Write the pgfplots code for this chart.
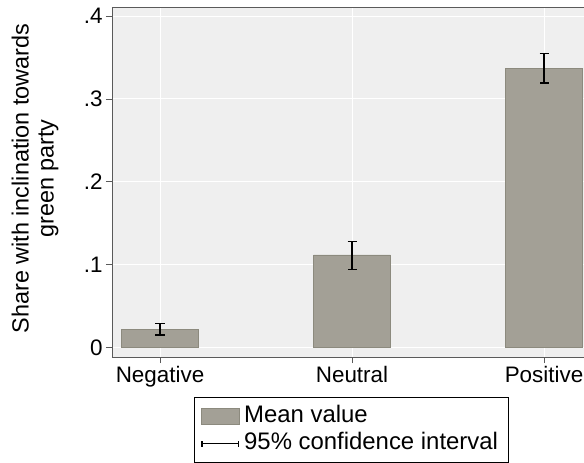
\documentclass[border=0pt]{standalone}
\usepackage{pgfplots}
\pgfplotsset{compat=1.18}
\usepackage{fontspec}
\setmainfont{Liberation Sans}
\definecolor{barfill}{RGB}{163,160,150}
\definecolor{baredge}{RGB}{140,138,126}
\definecolor{plotbg}{RGB}{239,239,239}
\definecolor{axgray}{RGB}{90,90,90}
\begin{document}
\begin{tikzpicture}
\begin{axis}[
  at={(0,0)}, anchor=south west,
  scale only axis,
  width=472bp, height=350bp,
  xmin=-0.25, xmax=2.2083,
  ymin=-0.0117, ymax=0.411,
  axis background/.style={fill=plotbg},
  axis x line*=box, axis y line*=left,
  axis line style={axgray, line width=0.8bp},
  xtick={0,1,2}, xticklabels={Negative,Neutral,Positive},
  ytick={0,0.1,0.2,0.3,0.4}, yticklabels={0,.1,.2,.3,.4},
  tick align=outside, tick pos=left,
  major tick length=6bp,
  tick style={axgray, line width=0.8bp},
  xmajorgrids, ymajorgrids,
  major grid style={white, line width=1bp},
  ticklabel style={font=\fontsize{22.5}{26}\selectfont},
  /pgf/number format/assume math mode=true,
  ylabel={Share with inclination towards\\green party},
  every axis y label/.style={at={(rel axis cs:-0.106,0.51)}, rotate=90, anchor=south,
    align=center, font=\fontsize{23.5}{25}\selectfont},
  legend style={at={(0.1737,-0.114)}, anchor=north west, draw=black, line width=0.8bp,
    font=\fontsize{24}{26}\selectfont, inner xsep=6bp, inner ysep=5bp,
    row sep=0bp, cells={anchor=west},
    nodes={text height=17.5bp, text depth=5bp, inner ysep=2.5bp, inner xsep=4bp}},
  legend cell align=left,
  clip=false,
]
\addplot[ybar, bar width=0.4, fill=barfill, draw=baredge, line width=0.6bp,
  legend image code/.code={\draw[fill=barfill, draw=baredge, line width=0.6bp] (0bp,-8bp) rectangle (38bp,8bp);}]
  coordinates {(0,0.0217) (1,0.1115) (2,0.337)};
\addlegendentry{Mean value}
\addplot[draw=none, mark=none,
  legend image code/.code={\draw[black, line width=1.8bp] (0bp,0bp) -- (38bp,0bp); \draw[black, line width=1.4bp] (0.7bp,-3bp) -- (0.7bp,3bp); \draw[black, line width=1.4bp] (37.3bp,-3bp) -- (37.3bp,3bp);},
  error bars/.cd, y dir=both, y explicit,
  error bar style={draw=black, line width=1.6bp},
  error mark options={draw=black, line width=1.6bp, mark size=4.5bp, rotate=90},
  ]
  coordinates {(0,0.022) += (0,0.007) -= (0,0.007)
               (1,0.111) += (0,0.017) -= (0,0.017)
               (2,0.337) += (0,0.018) -= (0,0.018)};
\addlegendentry{95\% confidence interval}
\end{axis}
\pgfresetboundingbox
\path (-112bp,-106bp) rectangle (472bp,357bp);
\end{tikzpicture}
\end{document}
